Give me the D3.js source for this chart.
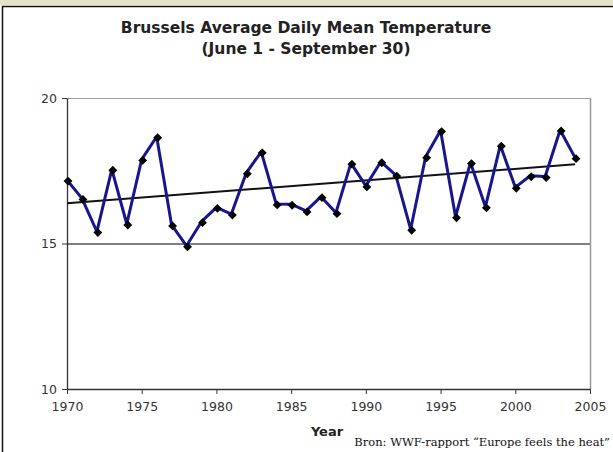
<!DOCTYPE html>
<html>
<head>
<meta charset="utf-8">
<script src="https://cdn.jsdelivr.net/npm/d3@7"></script>
<style>
  body { margin: 0; background: #fff; }
  svg { display: block; }
</style>
</head>
<body>
<script>
// values
const years = [1970, 1971, 1972, 1973, 1974, 1975, 1976, 1977, 1978, 1979,
               1980, 1981, 1982, 1983, 1984, 1985, 1986, 1987, 1988, 1989,
               1990, 1991, 1992, 1993, 1994, 1995, 1996, 1997, 1998, 1999,
               2000, 2001, 2002, 2003, 2004];
const temps = [17.18, 16.55, 15.41, 17.55, 15.67, 17.89, 18.67, 15.64, 14.92, 15.75,
               16.24, 16.01, 17.43, 18.15, 16.36, 16.35, 16.12, 16.61, 16.06, 17.76,
               16.98, 17.81, 17.35, 15.49, 17.98, 18.88, 15.92, 17.78, 16.26, 18.38,
               16.93, 17.33, 17.30, 18.90, 17.95];
const trendYears = [1970, 2004];
const trendTemps = [16.38, 17.72];
const xTicks = [1970, 1975, 1980, 1985, 1990, 1995, 2000, 2005];
const yTicks = [10, 15, 20];

const W = 613, H = 452;
const margin = {left: 67, right: 23, top: 98, bottom: 63};

const svg = d3.select("body").append("svg").attr("width", W).attr("height", H);

// page strip and frame
svg.append("rect").attr("x", 0).attr("y", 0).attr("width", W).attr("height", 5).attr("fill", "#e6e2c8");
svg.append("path")
   .attr("d", `M2.5,${H} L2.5,6.5 L${W},6.5`)
   .attr("fill", "none").attr("stroke", "#111").attr("stroke-width", 1.5);

const xScale = d3.scaleLinear().domain([1970, 2005]).range([margin.left, W - margin.right]);
const yScale = d3.scaleLinear().domain([10, 20]).range([H - margin.bottom, margin.top]);

const g = svg.append("g");

// gridlines
g.selectAll("line.grid")
 .data(yTicks.filter(d => d > 10))
 .enter().append("line")
 .attr("class", "grid")
 .attr("x1", xScale(1970)).attr("x2", xScale(2005))
 .attr("y1", d => yScale(d) + 0.5).attr("y2", d => yScale(d) + 0.5)
 .attr("stroke", d => d === 15 ? "#555" : "#a0a0a0")
 .attr("stroke-width", d => d === 15 ? 1.5 : 1.2);

// right border of plot
g.append("line")
 .attr("x1", xScale(2005) + 0.5).attr("x2", xScale(2005) + 0.5)
 .attr("y1", yScale(20)).attr("y2", yScale(10))
 .attr("stroke", "#999").attr("stroke-width", 1.5);

// axes
const xAxis = d3.axisBottom(xScale).tickValues(xTicks).tickFormat(d3.format("d")).tickSize(5).tickSizeOuter(0);
const yAxis = d3.axisLeft(yScale).tickValues(yTicks).tickSize(5).tickSizeOuter(0);

const gx = g.append("g").attr("transform", `translate(0, ${yScale(10)})`).call(xAxis);
const gy = g.append("g").attr("transform", `translate(${xScale(1970)}, 0)`).call(yAxis);

[gx, gy].forEach(a => {
  a.select(".domain").attr("stroke", "#333").attr("stroke-width", 1.3);
  a.selectAll(".tick line").attr("stroke", "#333");
  a.selectAll("text").attr("fill", "#333").style("font-family", "DejaVu Sans, Verdana, sans-serif").style("font-size", "12.5px");
});
gx.selectAll("text").attr("dy", "1.15em");
gy.selectAll("text").attr("x", -10);

// trend line
const trend = trendYears.map((y, i) => ({year: y, temp: trendTemps[i]}));
g.append("path")
 .attr("d", d3.line().x(d => xScale(d.year)).y(d => yScale(d.temp))(trend))
 .attr("fill", "none").attr("stroke", "#111").attr("stroke-width", 2);

// data line
const data = years.map((y, i) => ({year: y, temp: temps[i]}));
g.append("path")
 .attr("d", d3.line().x(d => xScale(d.year)).y(d => yScale(d.temp))(data))
 .attr("fill", "none").attr("stroke", "#16168e").attr("stroke-width", 3).attr("stroke-linejoin", "round");

// diamond markers
g.selectAll("path.marker")
 .data(data)
 .enter().append("path")
 .attr("class", "marker")
 .attr("d", d3.symbol().type(d3.symbolDiamond2).size(50))
 .attr("transform", d => `translate(${xScale(d.year) + 1}, ${yScale(d.temp) + 1})`)
 .attr("fill", "#000");

// titles
const title = svg.append("text")
  .attr("text-anchor", "middle")
  .attr("fill", "#222")
  .style("font-family", "DejaVu Sans, Verdana, sans-serif")
  .style("font-weight", "bold")
  .style("font-size", "15.5px");
title.append("tspan").attr("x", 306).attr("y", 33).text("Brussels Average Daily Mean Temperature");
title.append("tspan").attr("x", 306).attr("y", 54).text("(June 1 - September 30)");

svg.append("text")
  .attr("x", 327).attr("y", 436)
  .attr("text-anchor", "middle")
  .attr("fill", "#222")
  .style("font-family", "DejaVu Sans, Verdana, sans-serif")
  .style("font-weight", "bold")
  .style("font-size", "13px")
  .text("Year");

svg.append("text")
  .attr("x", 610).attr("y", 446)
  .attr("text-anchor", "end")
  .attr("fill", "#111")
  .style("font-family", "DejaVu Serif, Liberation Serif, serif")
  .style("font-size", "11.5px")
  .text("Bron: WWF-rapport \u201cEurope feels the heat\u201d");
</script>
</body>
</html>
